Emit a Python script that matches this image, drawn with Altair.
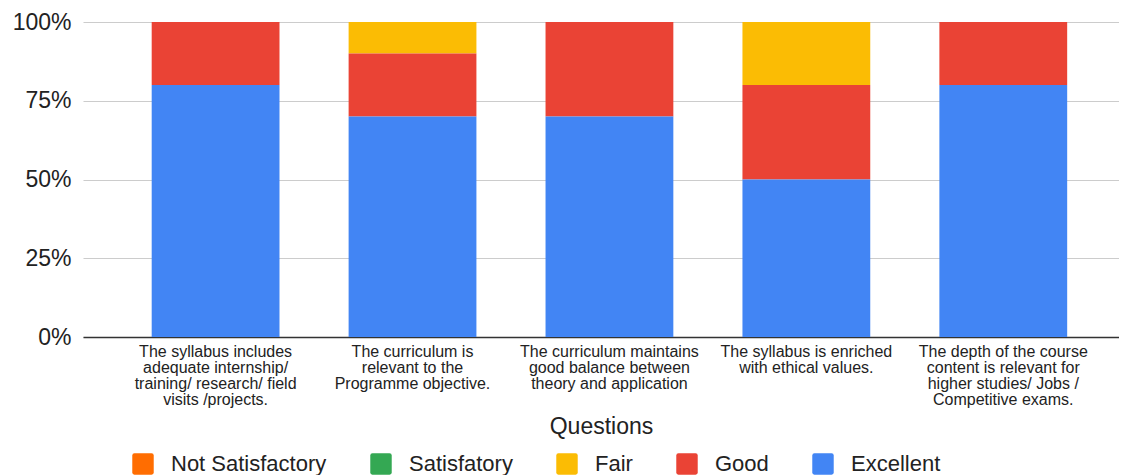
import altair as alt
import pandas as pd

questions = [
    "The syllabus includes|adequate internship/|training/ research/ field|visits /projects.",
    "The curriculum is|relevant to the|Programme objective.",
    "The curriculum maintains|good balance between|theory and application",
    "The syllabus is enriched|with ethical values.",
    "The depth of the course|content is relevant for|higher studies/ Jobs /|Competitive exams.",
]
ratings = ["Not Satisfactory", "Satisfatory", "Fair", "Good", "Excellent"]
colors = ["#ff6d01", "#34a853", "#fbbc04", "#ea4335", "#4285f4"]

not_satisfactory = [0, 0, 0, 0, 0]
satisfatory = [0, 0, 0, 0, 0]
fair = [0, 10, 0, 20, 0]
good = [20, 20, 30, 30, 20]
excellent = [80, 70, 70, 50, 80]

series = {
    "Not Satisfactory": not_satisfactory,
    "Satisfatory": satisfatory,
    "Fair": fair,
    "Good": good,
    "Excellent": excellent,
}
stack_rank = {"Excellent": 0, "Good": 1, "Fair": 2, "Satisfatory": 3, "Not Satisfactory": 4}

rows = []
for r, vals in series.items():
    for q, v in zip(questions, vals):
        rows.append({"Question": q, "Rating": r, "Value": v, "rank": stack_rank[r]})
df = pd.DataFrame(rows)

FONT = "Liberation Sans"

chart = alt.Chart(df).mark_bar().encode(
    x=alt.X(
        "Question:N",
        sort=questions,
        title="Questions",
        scale=alt.Scale(paddingInner=0.351, paddingOuter=0.306, align=0.57),
        axis=alt.Axis(
            labelAngle=0,
            labelExpr="split(datum.label, '|')",
            labelFont=FONT,
            labelFontSize=16,
            labelLineHeight=16,
            labelColor="#222222",
            labelPadding=6,
            ticks=False,
            domainColor="#333333",
            domainWidth=1.5,
            titleFont=FONT,
            titleFontSize=23,
            titleFontWeight="normal",
            titleColor="#222222",
            titlePadding=8,
            labelLimit=300,
        ),
    ),
    y=alt.Y(
        "Value:Q",
        stack="normalize",
        title=None,
        scale=alt.Scale(domain=[0, 1]),
        axis=alt.Axis(
            format=".0%",
            values=[0, 0.25, 0.5, 0.75, 1],
            labelFont=FONT,
            labelFontSize=23,
            labelColor="#222222",
            labelPadding=12,
            ticks=False,
            domain=False,
            gridColor="#cccccc",
            gridWidth=1.2,
        ),
    ),
    color=alt.Color(
        "Rating:N",
        scale=alt.Scale(domain=ratings, range=colors),
        legend=alt.Legend(
            title=None,
            orient="none",
            legendX=49,
            legendY=431,
            direction="horizontal",
            columns=5,
            symbolType="M-0.8,-1H0.8Q1,-1 1,-0.8V0.8Q1,1 0.8,1H-0.8Q-1,1 -1,0.8V-0.8Q-1,-1 -0.8,-1Z",
            symbolSize=460,
            symbolStrokeWidth=0,
            symbolOpacity=1,
            labelFont=FONT,
            labelFontSize=22,
            labelColor="#222222",
            labelOffset=17,
            columnPadding=43,
            padding=0,
            labelLimit=300,
        ),
    ),
    order=alt.Order("rank:Q", sort="ascending"),
).properties(
    width=1036,
    height=315,
    padding={"left": 4, "top": 3, "right": 0, "bottom": 0},
).configure_view(stroke=None)

chart.save("out.html", embed_options={"renderer": "svg", "actions": False})
